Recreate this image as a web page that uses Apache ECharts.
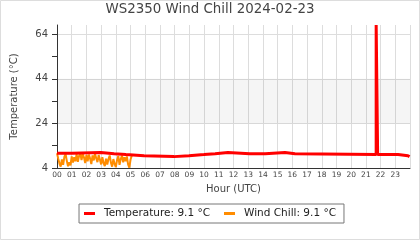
<!DOCTYPE html>
<html>
<head>
<meta charset="utf-8">
<script src="https://cdn.jsdelivr.net/npm/echarts@6/dist/echarts.min.js"></script>
<style>
html,body{margin:0;padding:0;background:#fff;}
#chart{width:420px;height:240px;}
</style>
</head>
<body>
<div id="chart"></div>
<script>
// ---- data ----
const titleText = 'WS2350 Wind Chill 2024-02-23';
const hourLabels = ['00','01','02','03','04','05','06','07','08','09','10','11','12','13','14','15','16','17','18','19','20','21','22','23'];
const yTickLabels = [4, 24, 44, 64];
const yMinorTicks = [14, 34, 54];
const seriesNames = ['Temperature', 'Wind Chill'];
const currentValues = [9.1, 9.1];

// temperature change points (hour, °C)
const tempHours  = [0, 1.02, 2.98, 3.88, 4.68, 5.92, 7.95, 8.97, 9.99, 10.75, 11.62, 13.10, 13.18, 14.15, 15.50, 16.18, 21.70, 21.80, 23.19, 23.86, 23.97];
const tempValues = [10.6, 11.0, 10.4, 10.0, 9.5, 9.1, 9.5, 10.0, 10.4, 10.9, 10.4, 10.0, 10.4, 10.9, 10.4, 10.0, 68.1, 10.0, 9.5, 9.1, 9.1];

// wind chill samples (5-minute), 00:00 - 05:05
const chillHours = [0,0.083,0.167,0.25,0.333,0.417,0.5,0.583,0.667,0.75,0.833,0.917,
  1,1.083,1.167,1.25,1.333,1.417,1.5,1.583,1.667,1.75,1.833,1.917,
  2,2.083,2.167,2.25,2.333,2.417,2.5,2.583,2.667,2.75,2.833,2.917,
  3,3.083,3.167,3.25,3.333,3.417,3.5,3.583,3.667,3.75,3.833,3.917,
  4,4.083,4.167,4.25,4.333,4.417,4.5,4.583,4.667,4.75,4.833,4.917,5,5.083];
const chillValues = [10.6,8.2,6.0,4.6,7.8,5.4,9.0,10.3,7.2,4.8,6.6,5.2,
  9.2,6.4,8.8,7.0,10.2,6.8,9.4,10.6,7.6,10.2,8.8,6.2,
  9.8,7.0,10.0,8.2,5.8,9.6,7.4,10.4,8.4,6.6,9.8,7.8,
  5.6,8.8,6.2,4.8,8.2,5.6,8.0,9.6,6.4,4.6,8.0,5.8,
  4.4,7.6,9.4,5.4,8.0,9.6,6.6,8.8,7.0,9.2,5.6,4.2,7.8,9.5];

const yMin = 4, yMax = 68.1;

const tempData = tempHours.map((h, i) => [h, tempValues[i]]);
const chillData = chillHours.map((h, i) => [h, chillValues[i]]);

const chart = echarts.init(document.getElementById('chart'), null, {renderer: 'canvas'});
chart.setOption({
  animation: false,
  backgroundColor: '#fff',
  textStyle: {fontFamily: 'DejaVu Sans'},
  title: {
    text: titleText, left: 'center', top: 3, padding: 0,
    textStyle: {fontSize: 13.4, fontWeight: 'normal', color: '#444', fontFamily: 'DejaVu Sans'}
  },
  graphic: [{
    type: 'rect', silent: true, z: 100,
    shape: {x: 0.5, y: 0.5, width: 419, height: 239},
    style: {fill: 'none', stroke: '#ddd', lineWidth: 1}
  }],
  legend: {
    left: 'center', top: 204,
    padding: [4, 8, 4, 5],
    borderColor: '#777', borderWidth: 1,
    itemWidth: 11, itemHeight: 3, itemGap: 14,
    icon: 'rect',
    textStyle: {fontSize: 10.5, color: '#222', padding: [0, 0, 0, 4], fontFamily: 'DejaVu Sans'},
    formatter: name => name + ': ' + currentValues[seriesNames.indexOf(name)].toFixed(1) + ' °C',
    data: seriesNames
  },
  grid: {left: 57, right: 10, top: 25, bottom: 72, outerBoundsMode: 'none'},
  xAxis: {
    type: 'value', min: 0, max: 24, interval: 1,
    name: 'Hour (UTC)', nameLocation: 'middle', nameGap: 14.5,
    nameTextStyle: {fontSize: 10, color: '#444'},
    axisLine: {lineStyle: {color: '#333', width: 1}},
    axisTick: {show: false},
    axisLabel: {
      fontSize: 7.5, color: '#444', margin: 3.5,
      formatter: v => (v >= 0 && v < 24) ? hourLabels[v] : ''
    },
    splitLine: {show: true, lineStyle: {color: '#ddd', width: 1}}
  },
  yAxis: [{
    type: 'value', min: yMin, max: yMax, position: 'left',
    name: 'Temperature (°C)', nameLocation: 'middle', nameGap: 38, nameRotate: 90,
    nameTextStyle: {fontSize: 10, color: '#444'},
    axisLine: {show: true, lineStyle: {color: '#333', width: 1}},
    axisTick: {show: true, length: 5, customValues: yTickLabels, lineStyle: {color: '#333'}},
    axisLabel: {fontSize: 10, color: '#444', margin: 9, customValues: yTickLabels},
    splitLine: {show: true, lineStyle: {color: '#ddd', width: 1}}
  }, {
    type: 'value', min: yMin, max: yMax, position: 'left', offset: 0,
    axisLine: {show: false},
    axisTick: {show: true, length: 5, customValues: yMinorTicks, lineStyle: {color: '#333'}},
    axisLabel: {show: false},
    splitLine: {show: false}
  }],
  series: [{
    name: 'Wind Chill', type: 'line', data: chillData,
    showSymbol: false, symbol: 'none', z: 2,
    lineStyle: {color: '#ff8c00', width: 2},
    itemStyle: {color: '#ff8c00'}
  }, {
    name: 'Temperature', type: 'line', data: tempData, step: 'end',
    showSymbol: false, symbol: 'none', z: 3,
    lineStyle: {color: '#ff0000', width: 3},
    itemStyle: {color: '#ff0000'},
    markArea: {
      silent: true,
      itemStyle: {color: 'rgba(0,0,0,0.04)'},
      data: [[{yAxis: 24}, {yAxis: 44}]]
    }
  }]
});
</script>
</body>
</html>
